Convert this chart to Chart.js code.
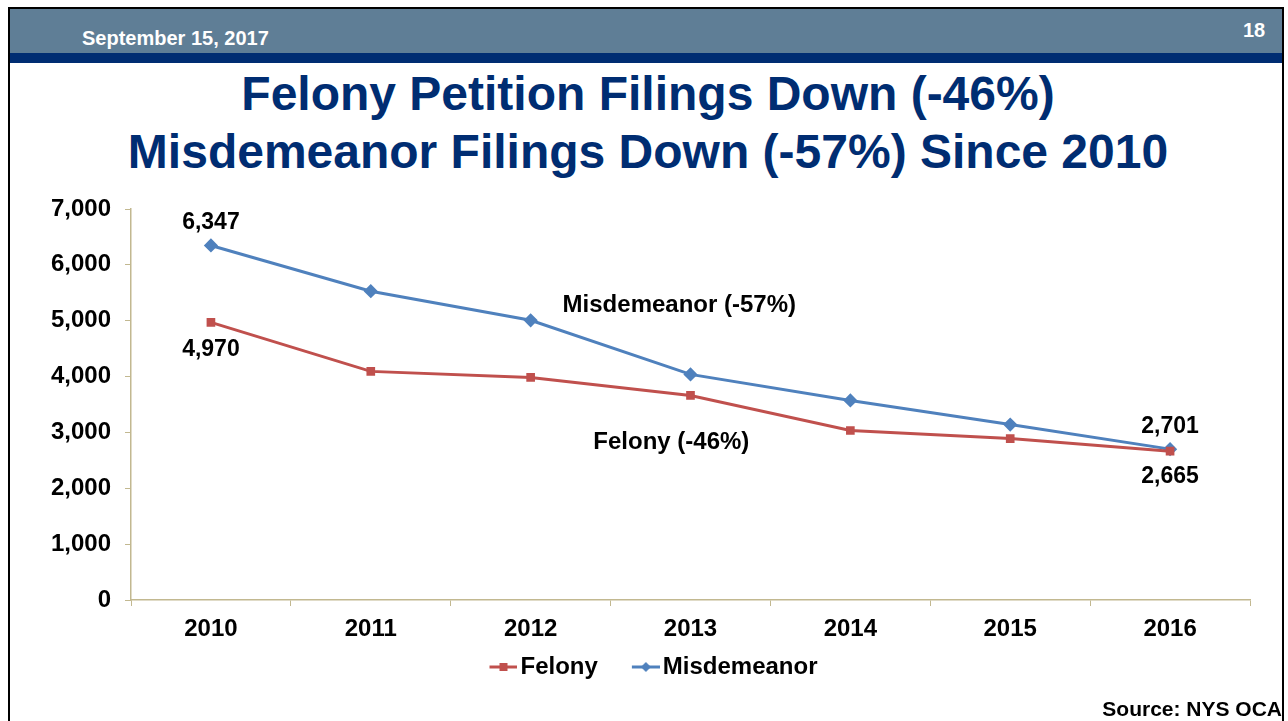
<!DOCTYPE html>
<html>
<head>
<meta charset="utf-8">
<script src="https://cdn.jsdelivr.net/npm/chart.js@4.4.1/dist/chart.umd.min.js"></script>
<style>
  html, body { margin: 0; padding: 0; background: #fff; }
  body { width: 1288px; height: 721px; position: relative; overflow: hidden; font-family: "Liberation Sans", Arial, sans-serif; }
  #frame { position: absolute; left: 8px; top: 7px; width: 1276px; height: 730px; border: 2px solid #000; box-sizing: border-box; }
  #band { position: absolute; left: 10px; top: 9px; width: 1274px; height: 44px; background: #5F7E96; }
  #navy { position: absolute; left: 10px; top: 53px; width: 1274px; height: 10px; background: #002D72; }
  #date { position: absolute; left: 82px; top: 27px; color: #fff; font-weight: bold; font-size: 20px; }
  #page { position: absolute; left: 1243px; top: 19px; color: #fff; font-weight: bold; font-size: 20px; }
  #title { position: absolute; left: 0; top: 65px; width: 1296px; text-align: center; color: #002D72; font-weight: bold; font-size: 48px; line-height: 58px; }
  #source { position: absolute; right: 6px; top: 697px; font-weight: bold; font-size: 21px; color: #000; }
  #wrap { position: absolute; left: 0; top: 180px; width: 1288px; height: 541px; }
</style>
</head>
<body>
<div id="band"></div>
<div id="navy"></div>
<div id="frame"></div>
<div id="date">September 15, 2017</div>
<div id="page">18</div>
<div id="title">Felony Petition Filings Down (-46%)<br>Misdemeanor Filings Down (-57%) Since 2010</div>
<div id="wrap"><canvas id="grafico"></canvas></div>
<div id="source">Source: NYS OCA</div>
<script>
const anos = ['2010', '2011', '2012', '2013', '2014', '2015', '2016'];
const felonia = [4970, 4093, 3985, 3662, 3034, 2890, 2665];
const contravencao = [6347, 5529, 5008, 4039, 3572, 3141, 2701];
const marcasY = [0, 1000, 2000, 3000, 4000, 5000, 6000, 7000];

const corFelonia = '#C0504D';
const corContravencao = '#4F81BD';
const corEixo = '#C2B890';
const fonte = '"Liberation Sans", Arial';

// rótulos soltos no gráfico: [texto, índice x, valor y]
const rotulos = [
    ['6,347', 0, 6760],
    ['4,970', 0, 4490],
    ['2,701', 6, 3100],
    ['2,665', 6, 2200],
    ['Misdemeanor (-57%)', 2.93, 5270],
    ['Felony (-46%)', 2.88, 2830]
];

// ícone da legenda: linha com marcador, deslocado para a direita da caixa
function iconeLegenda(cor, estilo) {
    const c = document.createElement('canvas');
    c.width = 66; c.height = 12;
    const g = c.getContext('2d');
    g.strokeStyle = cor;
    g.lineWidth = 3;
    g.beginPath(); g.moveTo(38, 6); g.lineTo(66, 6); g.stroke();
    g.fillStyle = cor;
    if (estilo === 'rect') {
        g.fillRect(48, 2, 8, 8);
    } else {
        g.beginPath(); g.moveTo(52, 1); g.lineTo(57, 6); g.lineTo(52, 11); g.lineTo(47, 6); g.closePath(); g.fill();
    }
    return c;
}

const pluginRotulos = {
    id: 'rotulos',
    afterDatasetsDraw(chart) {
        const ctx = chart.ctx;
        const x = chart.scales.x, y = chart.scales.y;
        ctx.save();
        ctx.fillStyle = '#000';
        ctx.textAlign = 'center';
        ctx.textBaseline = 'middle';
        rotulos.forEach(r => {
            ctx.font = (r[0].length > 6 ? 'bold 24px ' : 'bold 23px ') + fonte;
            ctx.fillText(r[0], x.getPixelForValue(r[1]), y.getPixelForValue(r[2]));
        });
        ctx.restore();
    }
};

let ctx = document.getElementById('grafico').getContext('2d');
new Chart(ctx, {
    type: 'line',
    data: {
        labels: anos,
        datasets: [{
            label: 'Felony',
            data: felonia,
            borderColor: corFelonia,
            backgroundColor: corFelonia,
            borderWidth: 3,
            pointStyle: 'rect',
            pointRadius: 4,
            pointHoverRadius: 4,
            tension: 0
        }, {
            label: 'Misdemeanor',
            data: contravencao,
            borderColor: corContravencao,
            backgroundColor: corContravencao,
            borderWidth: 3,
            pointStyle: 'rectRot',
            pointRadius: 5,
            pointHoverRadius: 5,
            tension: 0
        }]
    },
    options: {
        responsive: true,
        maintainAspectRatio: false,
        animation: false,
        layout: { padding: { left: 28, right: 38, top: 29, bottom: 32 } },
        scales: {
            x: {
                offset: true,
                grid: { drawOnChartArea: false, drawTicks: true, tickLength: 6, color: corEixo, offset: true },
                border: { color: corEixo, width: 1.5 },
                ticks: { color: '#000', padding: 9, font: { family: fonte, size: 24, weight: 'bold' } },
                afterFit(scale) { scale.height = 50; }
            },
            y: {
                min: 0,
                max: 7000,
                afterBuildTicks(scale) { scale.ticks = marcasY.map(v => ({ value: v })); },
                grid: { drawOnChartArea: false, drawTicks: true, tickLength: 6, color: corEixo },
                border: { color: corEixo, width: 1.5 },
                ticks: {
                    color: '#000',
                    padding: 14,
                    font: { family: fonte, size: 24, weight: 'bold' },
                    callback: v => v.toLocaleString('en-US')
                },
                afterFit(scale) { scale.width = 103; }
            }
        },
        plugins: {
            legend: {
                position: 'bottom',
                labels: {
                    usePointStyle: true,
                    pointStyleWidth: 48,
                    padding: 5,
                    color: '#000',
                    font: { family: fonte, size: 24, weight: 'bold' },
                    generateLabels(chart) {
                        return chart.data.datasets.map((d, i) => ({
                            text: d.label,
                            pointStyle: iconeLegenda(d.borderColor, i === 0 ? 'rect' : 'rectRot'),
                            fillStyle: d.borderColor,
                            strokeStyle: d.borderColor,
                            lineWidth: 0,
                            fontColor: '#000',
                            datasetIndex: i
                        }));
                    }
                }
            },
            tooltip: { enabled: false }
        }
    },
    plugins: [pluginRotulos]
});
</script>
</body>
</html>
